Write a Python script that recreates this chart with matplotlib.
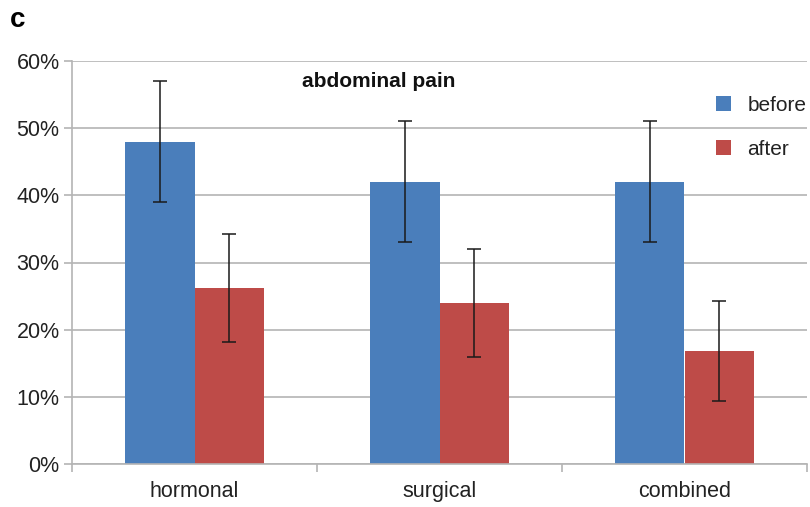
import numpy as np
import matplotlib.pyplot as plt

plt.rcParams['font.family'] = ['Liberation Sans', 'DejaVu Sans']

categories = ['hormonal', 'surgical', 'combined']
before = [48, 42, 42]
after = [26.2, 24, 16.8]
before_err = [9, 9, 9]
after_err = [8, 8, 7.4]

blue = '#4A7EBB'
red = '#BE4B48'
grid_col = '#B4B4B4'

fig = plt.figure(figsize=(8.1, 5.07), dpi=100)
ax = fig.add_axes([72 / 810, 1 - 464 / 507, 735 / 810, 403 / 507])

x = np.arange(len(categories))
w = 0.285
err_kw = dict(ecolor='#1a1a1a', elinewidth=1.1, capsize=5, capthick=1.1)
ax.bar(x - w / 2, before, w, color=blue, yerr=before_err, error_kw=err_kw,
       label='before', zorder=2)
ax.bar(x + w / 2, after, w, color=red, yerr=after_err, error_kw=err_kw,
       label='after', zorder=2)

ax.set_xlim(-0.5, len(categories) - 0.5)
ax.set_ylim(0, 60)
ax.set_yticks(range(0, 61, 10))
ax.set_yticklabels([f'{v}%' for v in range(0, 61, 10)])
ax.yaxis.grid(True, color=grid_col, linewidth=1.2, zorder=0)
ax.set_axisbelow(True)

ax.set_xticks(x)
ax.set_xticklabels(categories)
ax.set_xticks(np.arange(-0.5, len(categories), 1), minor=True)
ax.tick_params(axis='x', which='major', length=0, pad=12, labelsize=15.5, labelcolor='#222222')
ax.tick_params(axis='x', which='minor', length=6, width=1.2, color=grid_col)
ax.tick_params(axis='y', length=6, width=1.2, color=grid_col, pad=3, labelsize=15.5,
               labelcolor='#222222')

for s in ['top', 'right']:
    ax.spines[s].set_visible(False)
for s in ['left', 'bottom']:
    ax.spines[s].set_color(grid_col)
    ax.spines[s].set_linewidth(1.2)

ax.text(0.417, 0.95, 'abdominal pain', transform=ax.transAxes, ha='center', va='center',
        fontsize=15, fontweight='bold', color='#111111')

leg = ax.legend(loc='upper right', bbox_to_anchor=(1.025, 0.96), frameon=False, fontsize=15,
                handlelength=0.7, handleheight=0.7, handletextpad=0.8, labelspacing=1.2)
for t in leg.get_texts():
    t.set_color('#222222')

fig.text(10 / 810, 1 - 20 / 507, 'c', fontsize=20, fontweight='bold', ha='left', va='center')

fig.savefig('out.png', dpi=100)
